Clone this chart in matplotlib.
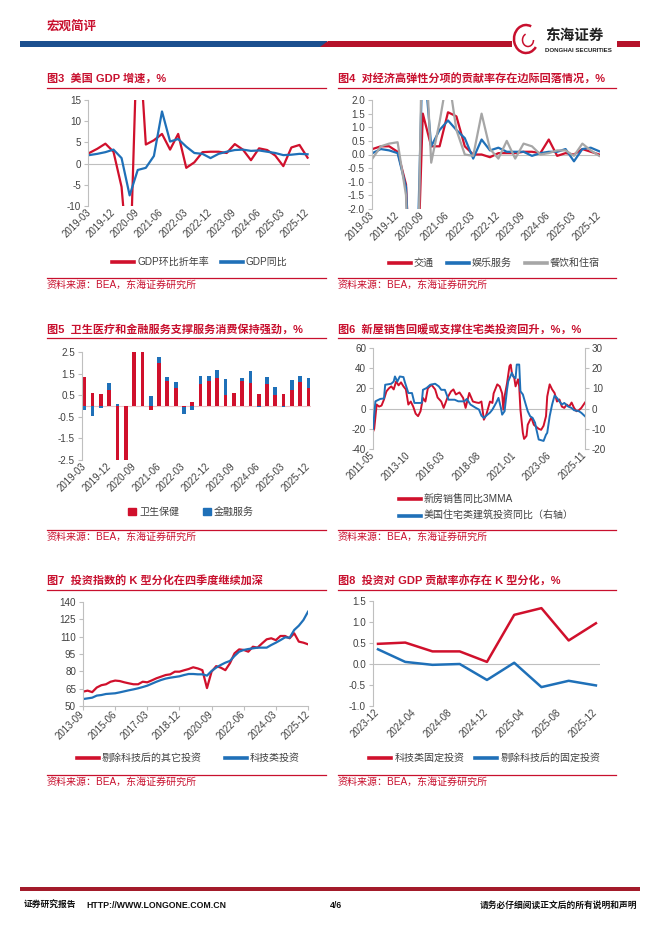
import numpy as np
import matplotlib
matplotlib.use('Agg')
import matplotlib.pyplot as plt
from matplotlib.lines import Line2D
from matplotlib.patches import Rectangle, Polygon, Arc, Patch

plt.rcParams['font.family'] = ['Liberation Sans', 'Noto Sans CJK SC']
plt.rcParams['axes.unicode_minus'] = False

# ---------------- 数据 ----------------
# 图3 美国GDP增速（季度，2019-03 ~ 2025-12）
q_ticks = ['2019-03', '2019-12', '2020-09', '2021-06', '2022-03',
           '2022-12', '2023-09', '2024-06', '2025-03', '2025-12']
gdp_qoq = [2.5, 3.5, 4.7, 2.8, -5.5, -28.0, 35.0, 4.5, 5.5, 7.0, 3.3, 7.0, -1.0, 0.3,
           2.7, 2.8, 2.8, 2.5, 4.6, 3.3, 0.8, 3.6, 3.2, 1.9, -0.6, 3.8, 4.4, 1.4]
gdp_yoy = [2.0, 2.3, 2.7, 3.3, 1.3, -7.5, -1.5, -1.0, 1.8, 12.3, 5.2, 5.8, 4.0, 2.5,
           2.3, 1.3, 2.3, 2.8, 3.2, 3.3, 3.0, 3.1, 2.8, 2.5, 2.0, 2.1, 2.3, 2.2]

# 图4 高弹性分项贡献率
transport = [0.2, 0.3, 0.3, 0.1, -1.1, -8.0, 1.5, 0.3, 0.3, 1.55, 1.4, 0.3, 0.0, 0.0,
             -0.1, 0.05, 0.05, 0.05, 0.1, 0.1, 0.05, 0.55, -0.05, 0.05, 0.0, 0.2, 0.1, 0.0]
recreation = [0.05, 0.2, 0.15, 0.05, -1.2, -8.0, 4.0, 0.3, 0.9, 1.25, 0.9, 0.6, -0.15, 0.55,
              0.15, 0.25, 0.1, 0.1, 0.1, -0.05, 0.05, 0.1, 0.1, 0.2, -0.25, 0.2, 0.25, 0.12]
food_hotel = [-0.15, 0.3, 0.4, 0.45, -1.5, -12.0, 6.0, -0.3, 1.2, 3.0, 0.9, 0.0, -0.05, 1.5,
              0.2, -0.15, 0.5, -0.15, 0.4, 0.3, 0.0, 0.05, 0.15, 0.15, -0.05, 0.4, 0.15, -0.05]

# 图5 卫生保健 / 金融服务
health = [1.35, 0.6, 0.55, 0.75, -4.0, -6.0, 6.0, 3.0, -0.2, 2.0, 1.15, 0.85, -0.05, 0.2,
          1.0, 1.15, 1.3, 0.5, 0.6, 1.15, 1.05, 0.55, 1.0, 0.5, 0.55, 0.75, 1.1, 0.85]
finance = [-0.2, -0.45, -0.08, 0.3, 0.1, -0.3, 0.4, 0.2, 0.45, 0.25, 0.2, 0.25, -0.3, -0.2,
           0.4, 0.25, 0.35, 0.75, 0.0, 0.15, 0.55, -0.05, 0.35, 0.4, -0.05, 0.45, 0.3, 0.45]

# 图6 新房销售同比3MMA（左轴） / 住宅类建筑投资同比（右轴）
m_ticks6 = ['2011-05', '2013-10', '2016-03', '2018-08', '2021-01', '2023-06', '2025-11']
sales_dates = ['2011-05', '2011-06', '2011-08', '2011-10', '2011-12', '2012-02', '2012-04',
               '2012-06', '2012-08', '2012-10', '2012-12', '2013-02', '2013-04', '2013-06',
               '2013-08', '2013-10', '2013-12', '2014-02', '2014-04', '2014-06', '2014-08',
               '2014-10', '2014-12', '2015-02', '2015-05', '2015-08', '2015-10', '2016-01',
               '2016-03', '2016-06', '2016-09', '2016-11', '2017-01', '2017-04', '2017-07',
               '2017-09', '2017-12', '2018-03', '2018-06', '2018-08', '2018-10', '2018-12',
               '2019-02', '2019-05', '2019-07', '2019-08', '2019-11', '2020-01', '2020-03',
               '2020-04', '2020-05', '2020-07', '2020-09', '2020-10', '2020-11', '2021-01',
               '2021-02', '2021-04', '2021-05', '2021-06', '2021-08', '2021-09', '2021-11',
               '2021-12', '2022-02', '2022-03', '2022-05', '2022-07', '2022-09', '2022-11',
               '2023-01', '2023-03', '2023-04', '2023-06', '2023-08', '2023-10', '2023-12',
               '2024-02', '2024-04', '2024-06', '2024-08', '2024-10', '2024-12', '2025-02',
               '2025-04', '2025-06', '2025-08', '2025-11']
sales_yoy = [-23, -20, 4, 2, 3, 9, 17, 20, 22, 19, 27, 23, 26, 22, 19, 4, 7, 2, -5, -7.5,
             -2.6, 10.5, 7, 20, 23.6, 19, 11, 7, 0.7, 10.5, 17, 19, 14, 16, 10.5, 0.7, 15.5,
             7, 6, 5.6, 7, -11, -6, 7, 5.6, 15, 24, 22, 15, -1, 12, 25, 42, 43.5, 35, 30,
             22, 29, 22, -1, -24, -30, -27, -16, -11, -9, -16, -18, -20, -21, -17, -7.5, 12,
             24, 19, 15.5, 7, 9, 2, 0.7, 4, 2, 6, 0.7, -2.6, -1.6, 0.7, 6]
resi_dates = ['2011-05', '2011-07', '2011-11', '2012-02', '2012-03', '2012-08', '2012-10',
              '2012-11', '2013-01', '2013-03', '2013-06', '2013-07', '2013-10', '2014-01',
              '2014-03', '2014-09', '2014-10', '2015-01', '2015-04', '2015-08', '2015-11',
              '2016-01', '2016-04', '2016-07', '2016-12', '2017-03', '2017-08', '2017-10',
              '2018-01', '2018-05', '2018-08', '2018-10', '2018-12', '2019-02', '2019-05',
              '2019-07', '2019-10', '2019-12', '2020-02', '2020-03', '2020-05', '2020-07',
              '2020-08', '2020-11', '2020-12', '2021-02', '2021-03', '2021-05', '2021-06',
              '2021-08', '2021-10', '2021-12', '2022-02', '2022-04', '2022-06', '2022-07',
              '2022-09', '2023-01', '2023-03', '2023-04', '2023-06', '2023-08', '2023-10',
              '2023-12', '2024-02', '2024-04', '2024-06', '2024-09', '2024-12', '2025-02',
              '2025-06', '2025-08', '2025-11']
resi_yoy = [-10, 3.6, 4.8, 5, 11.8, 12.3, 13.4, 15.9, 13.4, 15.9, 15.6, 13.4, 7.7, 7.7, 2.8,
            2.8, 9.3, 10.2, 11.8, 12.3, 11, 9.3, 9.3, 4.4, 4.4, 3.6, 3.6, 4.8, 2, 0.5, -0.5,
            -3.5, -4.6, -3.5, -2, -0.5, 2.8, 5.3, 0.3, -3, -1.3, 9.4, 13.5, 17.7, 16, 15,
            21.8, 21.8, 8.6, 7, 2.8, -1.3, -3.8, -4.6, -7, -10, -15.3, -16, -12.9, -12, -3.8,
            2, 6.4, 5.3, 3.6, 2, 2.8, 1.1, 0.3, -0.8, -1.3, -2.1, -3.8]

# 图7 投资指数（季度，2013-09 ~ 2025-12）
k_ticks7 = ['2013-09', '2015-06', '2017-03', '2018-12', '2020-09', '2022-06', '2024-03', '2025-12']
other_inv = [62.4, 63.3, 62.0, 66.0, 68.0, 68.8, 71.0, 72.0, 71.6, 70.5, 69.6, 68.8, 68.8,
             71.0, 70.5, 72.2, 74.0, 75.4, 76.8, 77.4, 79.7, 79.7, 80.9, 82.0, 83.5, 82.5,
             81.0, 65.5, 79.7, 84.5, 83.2, 81.0, 87.0, 95.6, 99.0, 98.5, 97.0, 101.3, 100.5,
             104.2, 107.7, 108.6, 107.0, 110.6, 110.6, 108.6, 112.9, 105.7, 104.8, 103.4]
tech_inv = [56.0, 56.6, 57.2, 59.0, 59.5, 60.4, 60.7, 61.0, 61.8, 62.7, 63.6, 64.4, 65.3,
            66.4, 67.6, 69.3, 71.0, 72.5, 73.7, 74.5, 75.1, 75.7, 76.8, 77.7, 77.7, 77.4,
            77.4, 76.3, 80.3, 83.2, 85.5, 87.5, 89.0, 93.3, 97.0, 98.5, 99.3, 99.9, 100.5,
            100.5, 100.5, 102.8, 104.8, 107.0, 109.4, 109.1, 115.8, 119.5, 124.4, 131.6]

# 图8 投资对GDP贡献率
dates8 = ['2023-12', '2024-03', '2024-06', '2024-09', '2024-12', '2025-03', '2025-06', '2025-09', '2025-12']
m_ticks8 = ['2023-12', '2024-04', '2024-08', '2024-12', '2025-04', '2025-08', '2025-12']
tech_fix = [0.48, 0.51, 0.30, 0.30, 0.05, 1.17, 1.33, 0.56, 0.97]
nontech_fix = [0.35, 0.05, -0.02, 0.0, -0.38, 0.03, -0.55, -0.40, -0.51]

# ---------------- 样式 ----------------
W, H = 662, 936
RED = '#D0102C'
BLUE = '#1F70B8'
GRAY = '#A6A6A6'
TRED = '#C8102E'
AXC = '#BFBFBF'
TXT = '#404040'
SRC = '资料来源：BEA，东海证券研究所'
YLS = 7.1   # y轴刻度字号
XLS = 6.9   # x轴刻度字号


def month_no(s, base):
    y, m = s.split('-')
    by, bm = base.split('-')
    return (int(y) - int(by)) * 12 + int(m) - int(bm)


fig = plt.figure(figsize=(W / 100, H / 100), dpi=100)


def fx(x):
    return x / W


def fy(y):
    return 1 - y / H


def px_axes(x0, y0, x1, y1):
    return fig.add_axes([fx(x0), fy(y1), (x1 - x0) / W, (y1 - y0) / H])


def frame(x0, x1, y_title, y_src, title):
    fig.text(fx(x0), fy(y_title), title, color=TRED, fontsize=8, fontweight='bold',
             va='center', ha='left')
    fig.add_artist(Line2D([fx(x0), fx(x1)], [fy(y_title + 9)] * 2, color=TRED, lw=0.9))
    fig.add_artist(Line2D([fx(x0), fx(x1)], [fy(y_src - 7)] * 2, color=TRED, lw=0.9))
    fig.text(fx(x0), fy(y_src), SRC, color=TRED, fontsize=7.2, va='center', ha='left')


def style(ax):
    for s in ['top', 'right', 'bottom']:
        ax.spines[s].set_visible(False)
    ax.spines['left'].set_color(AXC)
    ax.spines['left'].set_linewidth(0.8)
    ax.tick_params(axis='y', colors=TXT, labelsize=YLS, length=3, color=AXC, width=0.8, pad=2)
    ax.set_facecolor('none')


def xlabels(ax, ticks, labels, pad=3.5):
    ax.set_xticks(ticks)
    ax.set_xticklabels(labels, rotation=45, ha='right', va='center', rotation_mode='anchor')
    ax.tick_params(axis='x', colors=TXT, labelsize=XLS, length=0, pad=pad)


def legend(ax, handles, labels, cx, cy, ncol, gap):
    ax.legend(handles, labels, loc='center', bbox_to_anchor=(fx(cx), fy(cy)),
              bbox_transform=fig.transFigure, ncol=ncol, frameon=False, fontsize=7.2,
              handlelength=2.2, handletextpad=0.3, columnspacing=gap, borderpad=0,
              labelcolor=TXT)


def lh(c, lw=2.6):
    return Line2D([0], [0], color=c, lw=lw)


# ---------------- 页眉 / 页脚 ----------------
fig.text(fx(47), fy(27), '宏观简评', color=TRED, fontsize=9, fontweight='bold', va='center')
fig.add_artist(Rectangle((fx(20), fy(47)), fx(307), 6 / H, color='#1B4F8F', lw=0))
fig.add_artist(Polygon([(fx(320), fy(47)), (fx(328), fy(41)), (fx(512), fy(41)),
                        (fx(512), fy(47))], closed=True, color='#B5122A', lw=0))
fig.add_artist(Rectangle((fx(617), fy(47)), fx(23), 6 / H, color='#B5122A', lw=0))
fig.add_artist(Arc((fx(526), fy(39)), 24 / W, 28 / H, theta1=60, theta2=330,
                   color='#C8102E', lw=1.8))
fig.add_artist(Arc((fx(528), fy(40)), 11 / W, 13 / H, theta1=120, theta2=360,
                   color='#C8102E', lw=1.1))
fig.text(fx(545), fy(36), '东海证券', color='#222222', fontsize=10.5, fontweight='bold', va='center')
fig.text(fx(545), fy(50), 'DONGHAI SECURITIES', color='#222222', fontsize=4.4,
         fontweight='bold', va='center')

fig.add_artist(Rectangle((fx(20), fy(891)), fx(620), 4 / H, color='#A31B2A', lw=0))
fig.text(fx(24), fy(905), '证券研究报告', fontsize=6.3, fontweight='bold', va='center', color='#111111')
fig.text(fx(86), fy(905), 'HTTP://WWW.LONGONE.COM.CN', fontsize=6.3, fontweight='bold',
         va='center', color='#111111')
fig.text(fx(336), fy(905), '4/6', fontsize=6.3, fontweight='bold', va='center', ha='center',
         color='#111111')
fig.text(fx(637), fy(905), '请务必仔细阅读正文后的所有说明和声明', fontsize=6.3,
         fontweight='bold', va='center', ha='right', color='#111111')

q = np.arange(len(gdp_qoq))

# ---------------- 图3 ----------------
frame(47, 326, 79, 285, '图3  美国 GDP 增速，%')
ax = px_axes(88, 100, 310, 206)
style(ax)
ax.axhline(0, color=AXC, lw=0.8)
ax.plot(q, gdp_qoq, color=RED, lw=1.6)
ax.plot(q, gdp_yoy, color=BLUE, lw=1.6)
ax.set_ylim(-10, 15)
ax.set_yticks([-10, -5, 0, 5, 10, 15])
ax.set_xlim(-0.15, 27.3)
xlabels(ax, q[::3], q_ticks)
legend(ax, [lh(RED), lh(BLUE)], ['GDP环比折年率', 'GDP同比'], 200, 262, 2, 1.2)

# ---------------- 图4 ----------------
frame(338, 616, 79, 285, '图4  对经济高弹性分项的贡献率存在边际回落情况，%')
ax = px_axes(372, 100, 600, 209)
style(ax)
ax.axhline(0, color=AXC, lw=0.8)
ax.plot(q, transport, color=RED, lw=1.6)
ax.plot(q, recreation, color=BLUE, lw=1.6)
ax.plot(q, food_hotel, color=GRAY, lw=1.6)
ax.set_ylim(-2, 2)
ax.set_yticks(np.arange(-2, 2.01, 0.5))
ax.yaxis.set_major_formatter(matplotlib.ticker.FormatStrFormatter('%.1f'))
ax.set_xlim(-0.05, 27.1)
xlabels(ax, q[::3], q_ticks)
legend(ax, [lh(RED), lh(BLUE), lh(GRAY)], ['交通', '娱乐服务', '餐饮和住宿'], 494, 263, 3, 1.3)

# ---------------- 图5 ----------------
frame(47, 326, 329, 537, '图5  卫生医疗和金融服务支撑服务消费保持强劲，%')
ax = px_axes(82, 352, 311, 460)
style(ax)
ax.axhline(0, color='#EBC3C8', lw=0.8, zorder=0)
h = np.array(health)
f = np.array(finance)
f_bottom = np.where(f >= 0, np.maximum(h, 0), np.minimum(h, 0))
ax.bar(q, h, width=0.45, color=RED, lw=0)
ax.bar(q, f, width=0.45, bottom=f_bottom, color=BLUE, lw=0)
ax.set_ylim(-2.5, 2.5)
ax.set_yticks([-2.5, -1.5, -0.5, 0.5, 1.5, 2.5])
ax.set_xlim(-0.28, 27.3)
xlabels(ax, q[::3], q_ticks)
ax.legend([Patch(color=RED), Patch(color=BLUE)], ['卫生保健', '金融服务'], loc='center',
          bbox_to_anchor=(fx(191), fy(512)), bbox_transform=fig.transFigure, ncol=2,
          frameon=False, fontsize=7.2, handletextpad=0.3, columnspacing=2.4, borderpad=0,
          labelcolor=TXT, handlelength=0.8, handleheight=0.8)

# ---------------- 图6 ----------------
frame(338, 616, 329, 537, '图6  新屋销售回暖或支撑住宅类投资回升，%，%')
ax = px_axes(373, 348, 585, 449)
style(ax)
ax.axhline(0, color=AXC, lw=0.8)
base6 = m_ticks6[0]
xs = [month_no(d, base6) for d in sales_dates]
xr = [month_no(d, base6) for d in resi_dates]
ax.plot(xs, sales_yoy, color=RED, lw=1.4)
ax.set_ylim(-40, 60)
ax.set_yticks(np.arange(-40, 61, 20))
ax.set_xlim(0, month_no(m_ticks6[-1], base6))
xlabels(ax, [month_no(d, base6) for d in m_ticks6], m_ticks6)
axr = ax.twinx()
axr.plot(xr, resi_yoy, color=BLUE, lw=1.4)
axr.set_ylim(-20, 30)
axr.set_yticks(np.arange(-20, 31, 10))
for s in ['top', 'left', 'bottom']:
    axr.spines[s].set_visible(False)
axr.spines['right'].set_color(AXC)
axr.spines['right'].set_linewidth(0.8)
axr.tick_params(axis='y', colors=TXT, labelsize=YLS, length=3, color=AXC, width=0.8, pad=2)
ax.legend([lh(RED), lh(BLUE)], ['新房销售同比3MMA', '美国住宅类建筑投资同比（右轴）'],
          loc='center left', bbox_to_anchor=(fx(394), fy(508)),
          bbox_transform=fig.transFigure, ncol=1, frameon=False, fontsize=7.2,
          handlelength=2.2, handletextpad=0.3, borderpad=0, labelspacing=0.6,
          labelcolor=TXT)

# ---------------- 图7 ----------------
frame(47, 326, 581, 782, '图7  投资指数的 K 型分化在四季度继续加深')
ax = px_axes(83, 602, 308, 706)
style(ax)
ax.spines['bottom'].set_visible(True)
ax.spines['bottom'].set_color(AXC)
ax.spines['bottom'].set_linewidth(0.8)
k = np.arange(len(other_inv))
ax.plot(k, other_inv, color=RED, lw=1.6)
ax.plot(k, tech_inv, color=BLUE, lw=1.6)
ax.set_ylim(50, 140)
ax.set_yticks(np.arange(50, 141, 15))
ax.set_xlim(0, 49)
xlabels(ax, k[::7], k_ticks7, pad=2)
ax.tick_params(axis='x', length=3, color=AXC, width=0.8)
legend(ax, [lh(RED), lh(BLUE)], ['剔除科技后的其它投资', '科技类投资'], 188, 758, 2, 2.3)

# ---------------- 图8 ----------------
frame(338, 616, 581, 782, '图8  投资对 GDP 贡献率亦存在 K 型分化，%')
ax = px_axes(373, 601, 600, 706)
style(ax)
ax.axhline(0, color=AXC, lw=0.8)
base8 = dates8[0]
x8 = [month_no(d, base8) for d in dates8]
ax.plot(x8, tech_fix, color=RED, lw=1.8)
ax.plot(x8, nontech_fix, color=BLUE, lw=1.8)
ax.set_ylim(-1.0, 1.5)
ax.set_yticks(np.arange(-1.0, 1.51, 0.5))
ax.yaxis.set_major_formatter(matplotlib.ticker.FormatStrFormatter('%.1f'))
ax.set_xlim(-0.55, 24.45)
xlabels(ax, [month_no(d, base8) for d in m_ticks8], m_ticks8)
legend(ax, [lh(RED), lh(BLUE)], ['科技类固定投资', '剔除科技后的固定投资'], 485, 758, 2, 1.1)

fig.savefig('out.png', dpi=100)
